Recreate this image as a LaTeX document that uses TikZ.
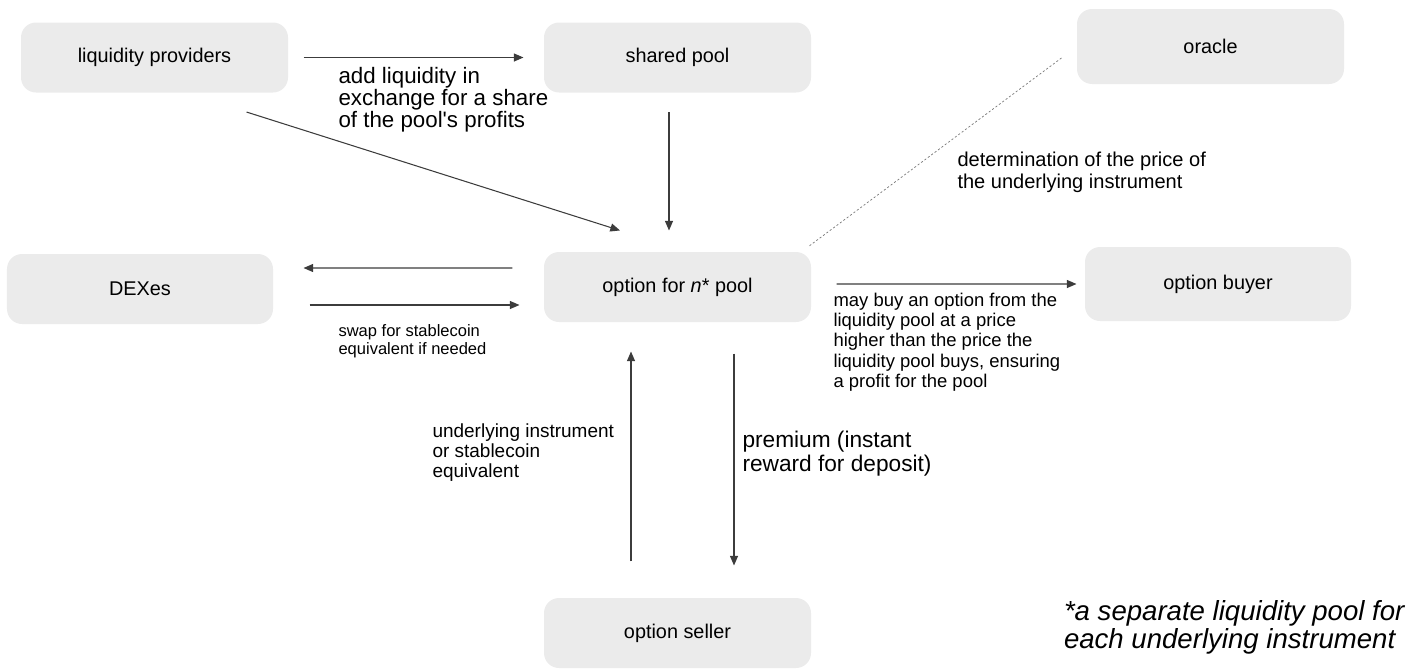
\documentclass[tikz,border=0pt]{standalone}
\usepackage{fontspec}
\setmainfont{Liberation Sans}
\usepackage{tikz}
\usetikzlibrary{arrows.meta,positioning,calc}

\definecolor{boxgray}{HTML}{EBEBEB}
\definecolor{linegray}{HTML}{3C3C3C}

\begin{document}
\begin{tikzpicture}[
  box/.style={fill=boxgray, rounded corners=0.3cm, minimum width=5.34cm, minimum height=1.4cm, font=\fontsize{11.3}{13}\selectfont},
  lbl/.style={anchor=north west, inner sep=0pt, align=left},
  flow/.style={draw=linegray, line width=0.6pt, -{Triangle[length=5.5pt,width=4.6pt]}},
  every path/.style={line width=0.6pt}]
\useasboundingbox (0,0) rectangle (28.52,-13.42);

\node (lp) [box] at (3.09,-1.15) {liquidity providers};
\node (sp) [box] at (13.55,-1.15) {shared pool};
\node (orc) [box, minimum height=1.5cm] at (24.21,-0.93) {oracle};

\node (dx) [box, minimum width=5.32cm] at (2.80,-5.78) {DEXes};
\node (op) [box] at (13.55,-5.74) {option for \textit{n}* pool};
\node (ob) [box, minimum width=5.32cm, minimum height=1.48cm] at (24.36,-5.68) {option buyer};

\node (os) [box] at (13.55,-12.66) {option seller};

% top row
\draw[flow, shorten <=0.3cm, shorten >=0.4cm] (lp.east) -- (sp.west);
\node (addlbl) [lbl, font=\fontsize{12.7}{12.5}\selectfont] at (6.76,-1.34) {add liquidity in\\exchange for a share\\of the pool\textquotesingle s profits};
\draw[flow] ([shift={(-0.84,-0.38)}]lp.south east) -- ([shift={(-1.15,0.42)}]op.north);
\draw[flow, shorten <=0.38cm, shorten >=0.42cm] ([shift={(-0.17,0)}]sp.south) -- ([shift={(-0.17,0)}]op.north);

% oracle
\draw[linegray!70, line width=0.4pt, dash pattern=on 1.2pt off 1.2pt] ([shift={(-0.30,-0.23)}]orc.west) -- ([shift={(-0.06,0.10)}]op.north east);
\node (detlbl) [lbl, font=\fontsize{11.4}{12.5}\selectfont] at (19.14,-3.02) {determination of the price of\\the underlying instrument};

% DEXes
\draw[flow, shorten <=0.62cm, shorten >=0.6cm] ([shift={(0,0.38)}]op.west) -- ([shift={(0,0.42)}]dx.east);
\draw[flow, shorten <=0.72cm, shorten >=0.48cm] ([shift={(0,-0.32)}]dx.east) -- ([shift={(0,-0.36)}]op.west);
\node (swaplbl) [lbl, font=\fontsize{9.4}{10.2}\selectfont] at (6.76,-6.48) {swap for stablecoin\\equivalent if needed};

% option buyer
\draw[flow, shorten <=0.5cm, shorten >=0.16cm] ([shift={(0,0.06)}]op.east) -- (ob.west);
\node (buylbl) [lbl, font=\fontsize{10.5}{11.4}\selectfont] at (16.66,-5.86) {may buy an option from the\\liquidity pool at a price\\higher than the price the\\liquidity pool buys, ensuring\\a profit for the pool};

% option seller
\draw[flow, shorten <=0.72cm, shorten >=0.58cm] ([shift={(-0.93,0)}]os.north) -- ([shift={(-0.93,0)}]op.south);
\node (undlbl) [lbl, font=\fontsize{10.8}{11.3}\selectfont] at (8.64,-8.46) {underlying instrument\\or stablecoin\\equivalent};
\draw[flow, shorten <=0.62cm, shorten >=0.64cm] ([shift={(1.13,0)}]op.south) -- ([shift={(1.13,0)}]os.north);
\node (premlbl) [lbl, font=\fontsize{12.9}{13.6}\selectfont] at (14.84,-8.62) {premium (instant\\reward for deposit)};

% footnote
\node (note) [anchor=north east, inner sep=0pt, align=left, font=\fontsize{15.7}{14}\selectfont\itshape] at (28.1,-12.0) {*a separate liquidity pool for\\each underlying instrument};
\end{tikzpicture}
\end{document}
